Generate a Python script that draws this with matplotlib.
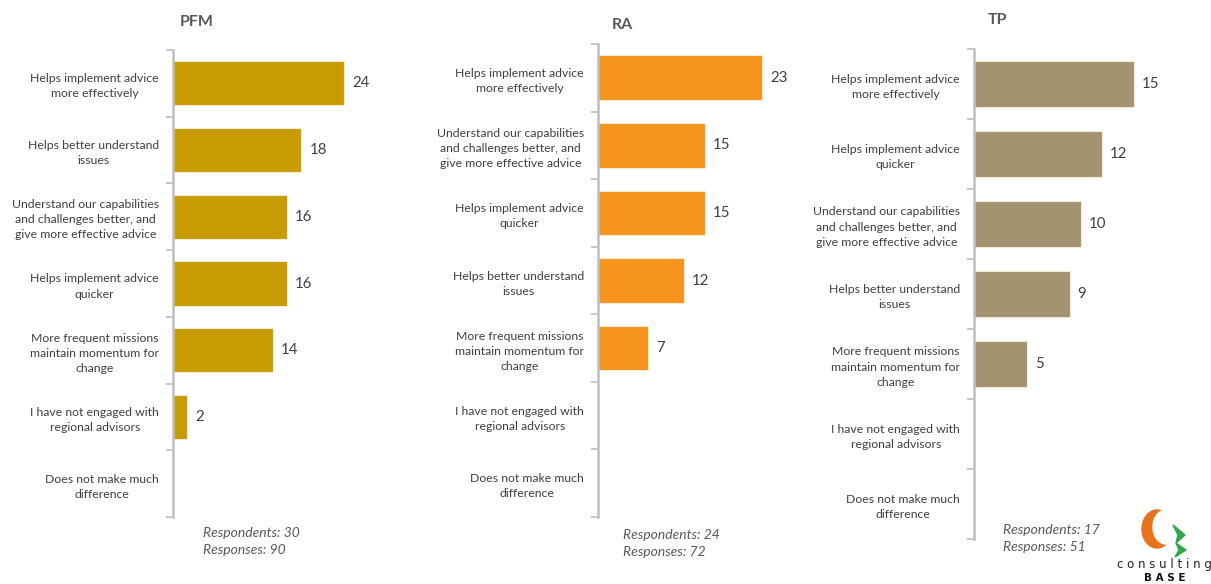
import matplotlib
matplotlib.use("Agg")
import matplotlib.pyplot as plt
from matplotlib.patches import Ellipse, Polygon
import numpy as np

plt.rcParams['font.family'] = ['Lato', 'DejaVu Sans']

# Survey answers per group, listed top to bottom
pfm_labels = [
    "Helps implement advice\nmore effectively",
    "Helps better understand\nissues",
    "Understand our capabilities\nand challenges better, and\ngive more effective advice",
    "Helps implement advice\nquicker",
    "More frequent missions\nmaintain momentum for\nchange",
    "I have not engaged with\nregional advisors",
    "Does not make much\ndifference",
]
pfm_values = [24, 18, 16, 16, 14, 2, 0]

ra_labels = [
    "Helps implement advice\nmore effectively",
    "Understand our capabilities\nand challenges better, and\ngive more effective advice",
    "Helps implement advice\nquicker",
    "Helps better understand\nissues",
    "More frequent missions\nmaintain momentum for\nchange",
    "I have not engaged with\nregional advisors",
    "Does not make much\ndifference",
]
ra_values = [23, 15, 15, 12, 7, 0, 0]

tp_labels = [
    "Helps implement advice\nmore effectively",
    "Helps implement advice\nquicker",
    "Understand our capabilities\nand challenges better, and\ngive more effective advice",
    "Helps better understand\nissues",
    "More frequent missions\nmaintain momentum for\nchange",
    "I have not engaged with\nregional advisors",
    "Does not make much\ndifference",
]
tp_values = [15, 12, 10, 9, 5, 0, 0]

titles = ["PFM", "RA", "TP"]
respondents = [30, 24, 17]
responses = [90, 72, 51]

W, H = 1211, 584
fig = plt.figure(figsize=(W / 100, H / 100), dpi=100)

TEXT = "#404040"
DARK = "#595959"
AXIS = "#BFBFBF"

panels = [
    # labels, values, colour, [left, top, right, bottom] in px, xmax
    (pfm_labels, pfm_values, "#C69C00", (173, 50, 387, 517), 30),
    (ra_labels, ra_values, "#F7941E", (598, 44, 812, 517), 30),
    (tp_labels, tp_values, "#A39371", (974, 49, 1187, 539), 20),
]
title_pos = [(197, 22), (622, 25), (998, 20)]
note_pos = [(203, 533), (623, 535), (1003, 530)]


def fx(px):
    return px / W


def fy(py):
    return 1 - py / H


for i, (labels, values, color, box, xmax) in enumerate(panels):
    l, t, r, b = box
    ax = fig.add_axes([fx(l), fy(b), fx(r) - fx(l), (b - t) / H])
    n = len(labels)
    y = np.arange(n)
    ax.barh(y, values, height=0.66, color=color, edgecolor="#F3EBD2",
            linewidth=0.8, zorder=2)
    ax.set_ylim(n - 0.5, -0.5)
    ax.set_xlim(0, xmax)
    for yi, v in zip(y, values):
        if v > 0:
            ax.text(v + xmax * 0.037, yi, str(v), va="center", ha="left",
                    fontsize=10.8, color=TEXT)
    for s in ["top", "right", "bottom"]:
        ax.spines[s].set_visible(False)
    ax.spines["left"].set_color(AXIS)
    ax.spines["left"].set_linewidth(1.8)
    ax.set_xticks([])
    ax.set_yticks(y)
    ax.set_yticklabels(labels, fontsize=8.8, color=TEXT, ma="center",
                       linespacing=1.45)
    ax.tick_params(axis="y", which="major", length=0, pad=10)
    ax.set_yticks(np.arange(n + 1) - 0.5, minor=True)
    ax.tick_params(axis="y", which="minor", length=5, width=1.2, color=AXIS)

    tx, ty = title_pos[i]
    fig.text(fx(tx), fy(ty), titles[i], ha="center", va="center",
             fontsize=11.5, fontweight="bold", color=DARK)
    nx, ny = note_pos[i]
    fig.text(fx(nx), fy(ny), f"Respondents: {respondents[i]}",
             ha="left", va="center", fontsize=10, style="italic", color=DARK)
    fig.text(fx(nx), fy(ny + 17), f"Responses: {responses[i]}",
             ha="left", va="center", fontsize=10, style="italic", color=DARK)

# Company mark in the lower right corner
lax = fig.add_axes([fx(1110), 0, fx(W) - fx(1110), (H - 500) / H])
lax.set_xlim(1110, W)
lax.set_ylim(584, 500)
lax.axis("off")
lax.add_patch(Ellipse((1157, 529), 30, 38, color="#E8731A", zorder=1))
lax.add_patch(Ellipse((1166, 527), 26, 34, color="white", zorder=2))
lax.add_patch(Polygon([(1173, 525), (1185, 535), (1176, 543), (1178, 535)],
                      closed=True, color="#2DA84A", zorder=3))
lax.add_patch(Polygon([(1176, 543), (1186, 550), (1175, 557), (1179, 550)],
                      closed=True, color="#2DA84A", zorder=3))
lax.text(1164, 564, "c o n s u l t i n g", ha="center", va="center",
         fontsize=8.5, color="#222222", family="DejaVu Sans")
lax.text(1165, 578, "B A S E", ha="center", va="center", fontsize=7.5,
         fontweight="bold", color="#111111", family="DejaVu Sans")

fig.savefig("out.png", dpi=100, facecolor="white")
